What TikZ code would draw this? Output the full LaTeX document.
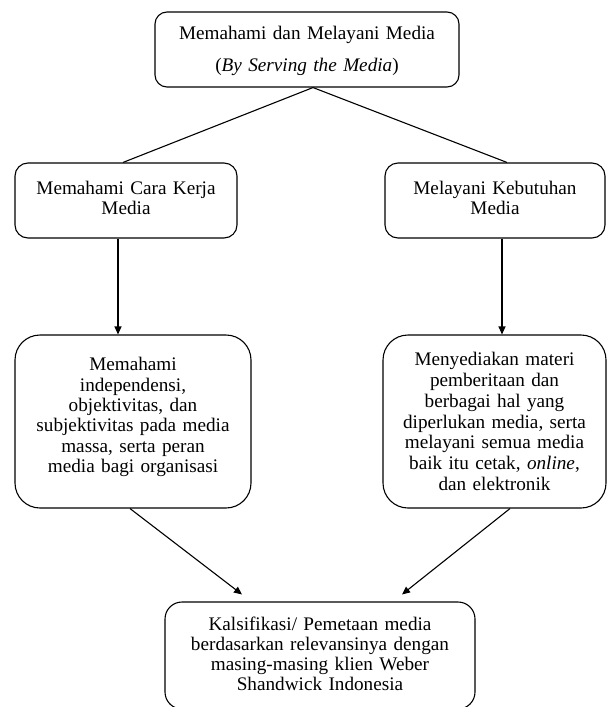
\documentclass[tikz,border=0pt]{standalone}
\usepackage{fontspec}
\setmainfont{Liberation Serif}
\usetikzlibrary{arrows.meta}
\begin{document}
\begin{tikzpicture}[x=1pt,y=-1pt,
  box/.style={draw,line width=1.1pt,align=center,inner sep=0pt},
  conn/.style={line width=1.1pt},
  arr/.style={line width=1.1pt,-{Triangle[length=8pt,width=7pt]}},
]
\useasboundingbox (0,0) rectangle (607,707);
\node[box,rounded corners=12pt,text width=304pt,minimum height=75pt,
  font=\fontsize{19.2}{32}\selectfont] (top) at (307,49.5)
  {\rule{0pt}{17pt}Memahami dan Melayani Media\\(\textit{By Serving the Media})};
\node[box,rounded corners=13pt,text width=222pt,minimum height=75pt,
  font=\fontsize{19.2}{20}\selectfont] (lm) at (126,200.5)
  {Memahami Cara Kerja\\Media\rule[-5pt]{0pt}{0pt}};
\node[box,rounded corners=13pt,text width=220pt,minimum height=75pt,
  font=\fontsize{19.2}{20}\selectfont] (rm) at (495,200.5)
  {Melayani Kebutuhan\\Media\rule[-5pt]{0pt}{0pt}};
\node[box,rounded corners=25pt,text width=236pt,minimum height=173pt,
  font=\fontsize{19.2}{20.4}\selectfont] (ll) at (133,421.5)
  {Memahami\\independensi,\\objektivitas, dan\\subjektivitas pada media\\massa, serta peran\\media bagi organisasi\rule[-13pt]{0pt}{0pt}};
\node[box,rounded corners=25pt,text width=223pt,minimum height=173pt,
  font=\fontsize{19.2}{20.8}\selectfont] (lr) at (494.5,421.5)
  {Menyediakan materi\\pemberitaan dan\\berbagai hal yang\\diperlukan media, serta\\melayani semua media\\baik itu cetak, \textit{online},\\dan elektronik};
\node[box,rounded corners=17pt,text width=310pt,minimum height=107pt,
  font=\fontsize{19.2}{20}\selectfont] (bot) at (320,655.5)
  {Kalsifikasi/ Pemetaan media\\berdasarkan relevansinya dengan\\masing-masing klien Weber\\Shandwick Indonesia\rule[-3pt]{0pt}{0pt}};
\draw[conn] ([xshift=6pt]top.south) -- ([xshift=-3pt]lm.north);
\draw[conn] ([xshift=6pt]top.south) -- ([xshift=12pt]rm.north);
\draw[arr] ([xshift=-8pt]lm.south) -- ([xshift=-15pt]ll.north);
\draw[arr] ([xshift=7pt]rm.south) -- ([xshift=7.5pt]lr.north);
\draw[arr] ([xshift=-3pt]ll.south) -- ([xshift=-78pt,yshift=7pt]bot.north);
\draw[arr] ([xshift=15.5pt]lr.south) -- ([xshift=82pt,yshift=7pt]bot.north);
\end{tikzpicture}
\end{document}
